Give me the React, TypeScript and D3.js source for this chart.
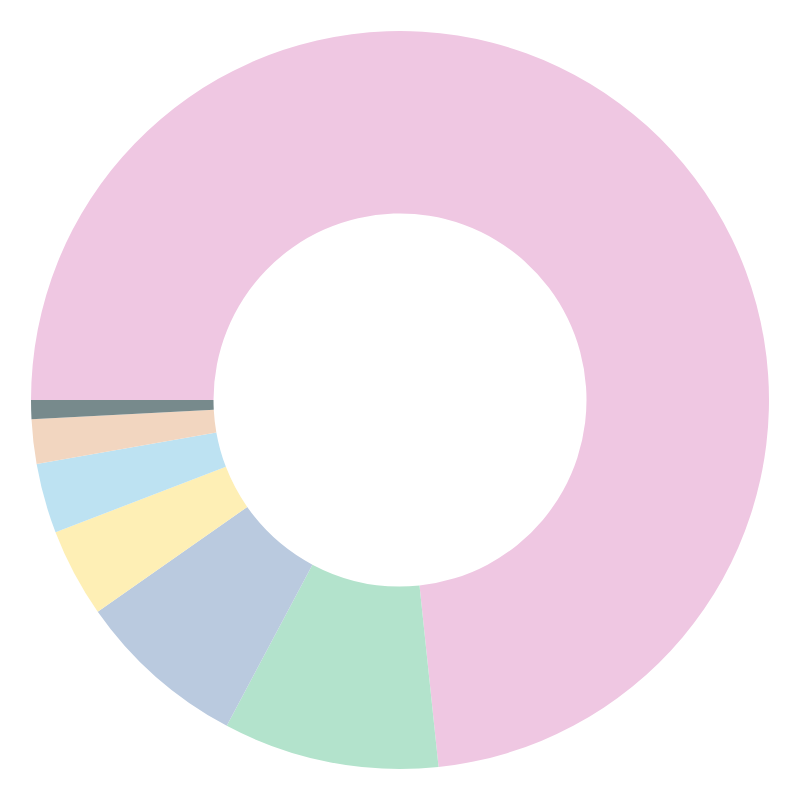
import React from "react";
import * as d3 from "d3";

const categories = ["A", "B", "C", "D", "E", "F", "G"];
const values = [264, 34, 27, 14, 11, 7, 3];
const colors = ["#EFC7E2", "#B3E3CC", "#BACADF", "#FEEFB5", "#BDE2F2", "#F2D6C0", "#778A8C"];

export default function App() {
  const width = 800;
  const height = 800;
  const outer = 369;
  const inner = 186.5;
  const data = categories.map((c, i) => ({ c, v: values[i], color: colors[i] }));
  const pie = d3
    .pie<any>()
    .value((d) => d.v)
    .sort(null)
    .startAngle(-Math.PI / 2)
    .endAngle((3 * Math.PI) / 2);
  const arc = d3.arc<any>().innerRadius(inner).outerRadius(outer);
  const arcs = pie(data);
  return (
    <svg
      width={width}
      height={height}
      style={{ position: "absolute", left: 0, top: 0, display: "block" }}
    >
      <rect width={width} height={height} fill="#ffffff" />
      <g transform={`translate(${width / 2},${height / 2})`}>
        {arcs.map((a, i) => (
          <path key={i} d={arc(a) as string} fill={a.data.color} />
        ))}
      </g>
    </svg>
  );
}
